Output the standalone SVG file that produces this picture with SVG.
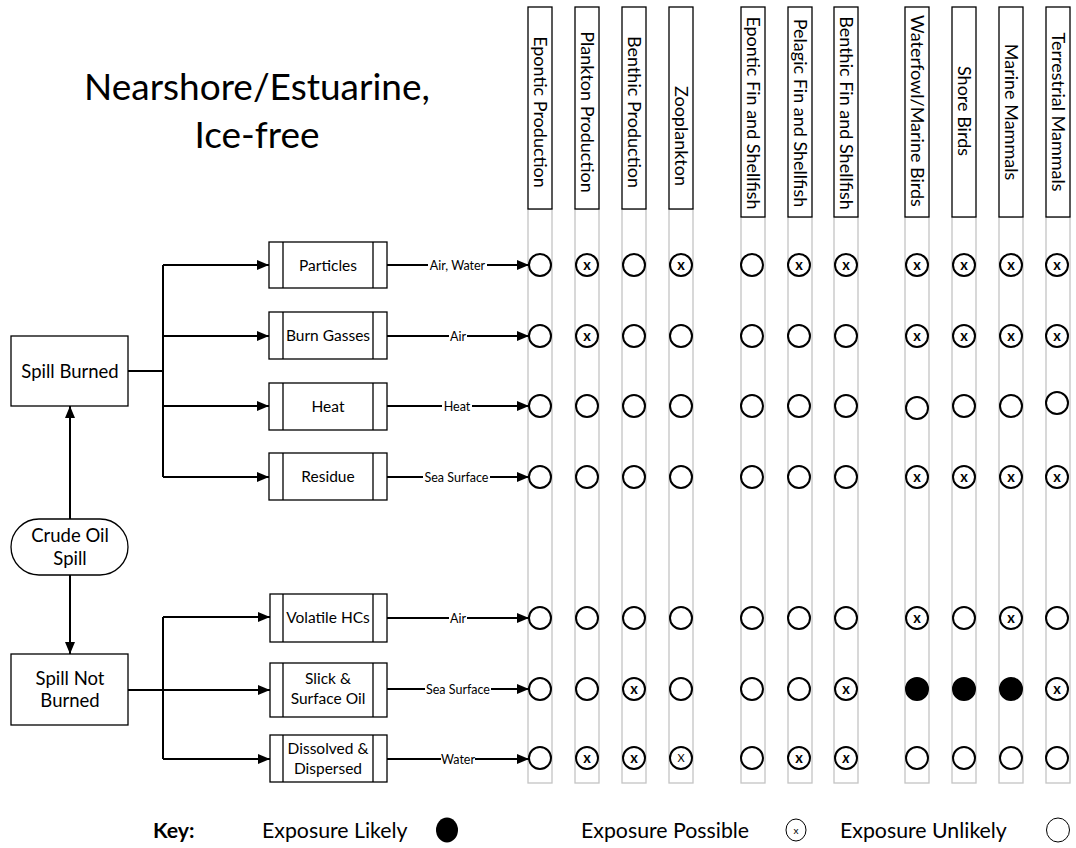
<svg xmlns="http://www.w3.org/2000/svg" width="1076" height="848" viewBox="0 0 1076 848">
<defs>
<marker id="arr" viewBox="0 0 12 10" refX="12" refY="5" markerWidth="12" markerHeight="10" markerUnits="userSpaceOnUse" orient="auto"><path d="M0,0 L12,5 L0,10 z" fill="#000"/></marker>
</defs>
<style>
text{font-family:Lato,"Liberation Sans",sans-serif;fill:#000}
.box{fill:#fff;stroke:#000;stroke-width:1.3}
.lane{fill:none;stroke:#c4c4c4;stroke-width:1.3}
.hdr{font-size:18px;text-anchor:middle}
.node{font-size:18.5px;text-anchor:middle}
.proc{font-size:15.5px;text-anchor:middle}
.lbl{font-size:12.5px;text-anchor:middle}
.lblbg{fill:#fff;stroke:none}
.conn{fill:none;stroke:#000;stroke-width:2}
.c{fill:#fff;stroke:#000;stroke-width:2}
.cf{fill:#000;stroke:#000;stroke-width:2}
.x{font-size:14.5px;font-weight:bold;text-anchor:middle}
.key{font-size:21.3px}
.title{font-size:37px;text-anchor:middle}
</style>
<rect x="0" y="0" width="1076" height="848" fill="#fff"/>

<g id="title">
<text class="title" x="257" y="100">Nearshore/Estuarine,</text>
<text class="title" x="257" y="148">Ice-free</text>
</g>

<g id="col-epontic-production"><rect class="lane" x="528" y="209" width="24" height="574"/><rect class="box" x="528" y="7" width="24" height="202"/><text class="hdr" transform="translate(540,112) rotate(90)" dy="6.2">Epontic Production</text></g>
<g id="col-plankton-production"><rect class="lane" x="575" y="209" width="24" height="574"/><rect class="box" x="575" y="7" width="24" height="202"/><text class="hdr" transform="translate(587,112) rotate(90)" dy="6.2">Plankton Production</text></g>
<g id="col-benthic-production"><rect class="lane" x="622" y="209" width="24" height="574"/><rect class="box" x="622" y="7" width="24" height="202"/><text class="hdr" transform="translate(634,112) rotate(90)" dy="6.2">Benthic Production</text></g>
<g id="col-zooplankton"><rect class="lane" x="669" y="209" width="24" height="574"/><rect class="box" x="669" y="7" width="24" height="202"/><text class="hdr" transform="translate(681,136) rotate(90)" dy="6.2">Zooplankton</text></g>
<g id="col-epontic-fin"><rect class="lane" x="741" y="217" width="24" height="566"/><rect class="box" x="741" y="7" width="24" height="210"/><text class="hdr" transform="translate(753,113) rotate(90)" dy="6.2">Epontic Fin and Shellfish</text></g>
<g id="col-pelagic-fin"><rect class="lane" x="788" y="217" width="24" height="566"/><rect class="box" x="788" y="7" width="24" height="210"/><text class="hdr" transform="translate(800,113) rotate(90)" dy="6.2">Pelagic Fin and Shellfish</text></g>
<g id="col-benthic-fin"><rect class="lane" x="834" y="217" width="24" height="566"/><rect class="box" x="834" y="7" width="24" height="210"/><text class="hdr" transform="translate(846,113) rotate(90)" dy="6.2">Benthic Fin and Shellfish</text></g>
<g id="col-waterfowl"><rect class="lane" x="905" y="217" width="24" height="566"/><rect class="box" x="905" y="7" width="24" height="210"/><text class="hdr" transform="translate(917,111) rotate(90)" dy="6.2">Waterfowl/Marine Birds</text></g>
<g id="col-shore-birds"><rect class="lane" x="952" y="217" width="24" height="566"/><rect class="box" x="952" y="7" width="24" height="210"/><text class="hdr" transform="translate(964,111) rotate(90)" dy="6.2">Shore Birds</text></g>
<g id="col-marine-mammals"><rect class="lane" x="999" y="217" width="24" height="566"/><rect class="box" x="999" y="7" width="24" height="210"/><text class="hdr" transform="translate(1011,112) rotate(90)" dy="6.2">Marine Mammals</text></g>
<g id="col-terrestrial-mammals"><rect class="lane" x="1046" y="217" width="24" height="566"/><rect class="box" x="1046" y="7" width="24" height="210"/><text class="hdr" transform="translate(1058,112) rotate(90)" dy="6.2">Terrestrial Mammals</text></g>

<g id="connectors">
<path class="conn" d="M70,519 V406" marker-end="url(#arr)"/>
<path class="conn" d="M70,575 V654" marker-end="url(#arr)"/>
<path class="conn" d="M128,371 H163 M163,265 V477" stroke-width="2.5"/>
<path class="conn" d="M163,265 H269" marker-end="url(#arr)"/>
<path class="conn" d="M163,336 H269" marker-end="url(#arr)"/>
<path class="conn" d="M163,406 H269" marker-end="url(#arr)"/>
<path class="conn" d="M163,477 H269" marker-end="url(#arr)"/>
<path class="conn" d="M128,690 H163 M163,617 V759" stroke-width="2.5"/>
<path class="conn" d="M163,617 H270" marker-end="url(#arr)"/>
<path class="conn" d="M163,690 H270" marker-end="url(#arr)"/>
<path class="conn" d="M163,759 H270" marker-end="url(#arr)"/>
<path class="conn" d="M387,265 H529" marker-end="url(#arr)"/>
<path class="conn" d="M387,336 H529" marker-end="url(#arr)"/>
<path class="conn" d="M387,406 H529" marker-end="url(#arr)"/>
<path class="conn" d="M387,477 H529" marker-end="url(#arr)"/>
<path class="conn" d="M387,618 H529" marker-end="url(#arr)"/>
<path class="conn" d="M387,689 H529" marker-end="url(#arr)"/>
<path class="conn" d="M387,759 H529" marker-end="url(#arr)"/>
<rect class="lblbg" x="428" y="258" width="59" height="14"/><text class="lbl" x="457.5" y="269.5">Air, Water</text>
<rect class="lblbg" x="449" y="329" width="18" height="14"/><text class="lbl" x="458" y="340.5">Air</text>
<rect class="lblbg" x="442" y="399" width="30" height="14"/><text class="lbl" x="457" y="410.5">Heat</text>
<rect class="lblbg" x="423" y="470" width="67" height="14"/><text class="lbl" x="456.5" y="481.5">Sea Surface</text>
<rect class="lblbg" x="449" y="611" width="18" height="14"/><text class="lbl" x="458" y="622.5">Air</text>
<rect class="lblbg" x="425" y="682" width="66" height="14"/><text class="lbl" x="458" y="693.5">Sea Surface</text>
<rect class="lblbg" x="441" y="752" width="34" height="14"/><text class="lbl" x="458" y="763.5">Water</text>
</g>

<g id="spill-burned"><rect class="box" x="11" y="336" width="117" height="70"/><text class="node" x="70" y="377.5">Spill Burned</text></g>
<g id="crude-oil-spill"><rect class="box" x="11" y="519" width="117" height="56" rx="28" ry="28"/><text class="node" x="70" y="542">Crude Oil</text><text class="node" x="70" y="565">Spill</text></g>
<g id="spill-not-burned"><rect class="box" x="11" y="654" width="117" height="71"/><text class="node" x="70" y="685">Spill Not</text><text class="node" x="70" y="707">Burned</text></g>

<g id="particles"><rect class="box" x="269" y="242" width="118" height="46"/><path class="box" d="M283,242 V288 M373,242 V288"/><text class="proc" x="328" y="270.5">Particles</text></g>
<g id="burn-gasses"><rect class="box" x="269" y="312" width="118" height="47"/><path class="box" d="M283,312 V359 M373,312 V359"/><text class="proc" x="328" y="341">Burn Gasses</text></g>
<g id="heat"><rect class="box" x="269" y="383" width="118" height="47"/><path class="box" d="M283,383 V430 M373,383 V430"/><text class="proc" x="328" y="412">Heat</text></g>
<g id="residue"><rect class="box" x="269" y="453" width="118" height="47"/><path class="box" d="M283,453 V500 M373,453 V500"/><text class="proc" x="328" y="482">Residue</text></g>
<g id="volatile-hcs"><rect class="box" x="270" y="594" width="117" height="48"/><path class="box" d="M283,594 V642 M373,594 V642"/><text class="proc" x="328" y="623">Volatile HCs</text></g>
<g id="slick-surface-oil"><rect class="box" x="270" y="663" width="117" height="54"/><path class="box" d="M283,663 V717 M373,663 V717"/><text class="proc" x="328" y="684">Slick &amp;</text><text class="proc" x="328" y="704">Surface Oil</text></g>
<g id="dissolved-dispersed"><rect class="box" x="270" y="735" width="117" height="47"/><path class="box" d="M283,735 V782 M373,735 V782"/><text class="proc" x="328" y="754">Dissolved &amp;</text><text class="proc" x="328" y="774">Dispersed</text></g>

<g id="exposure-particles">
<circle class="c" cx="540" cy="265" r="11"/>
<circle class="c" cx="587" cy="265" r="11"/><text class="x" x="587" y="269.5">x</text>
<circle class="c" cx="634" cy="265" r="11"/>
<circle class="c" cx="681" cy="265" r="11"/><text class="x" x="681" y="269.5">x</text>
<circle class="c" cx="752" cy="265" r="11"/>
<circle class="c" cx="799" cy="265" r="11"/><text class="x" x="799" y="269.5">x</text>
<circle class="c" cx="846" cy="265" r="11"/><text class="x" x="846" y="269.5">x</text>
<circle class="c" cx="917" cy="265" r="11"/><text class="x" x="917" y="269.5">x</text>
<circle class="c" cx="964" cy="265" r="11"/><text class="x" x="964" y="269.5">x</text>
<circle class="c" cx="1011" cy="265" r="11"/><text class="x" x="1011" y="269.5">x</text>
<circle class="c" cx="1057" cy="265" r="11"/><text class="x" x="1057" y="269.5">x</text>
</g>
<g id="exposure-burn-gasses">
<circle class="c" cx="540" cy="336" r="11"/>
<circle class="c" cx="587" cy="336" r="11"/><text class="x" x="587" y="340.5">x</text>
<circle class="c" cx="634" cy="336" r="11"/>
<circle class="c" cx="681" cy="336" r="11"/>
<circle class="c" cx="752" cy="336" r="11"/>
<circle class="c" cx="799" cy="336" r="11"/>
<circle class="c" cx="846" cy="336" r="11"/>
<circle class="c" cx="917" cy="336" r="11"/><text class="x" x="917" y="340.5">x</text>
<circle class="c" cx="964" cy="336" r="11"/><text class="x" x="964" y="340.5">x</text>
<circle class="c" cx="1011" cy="336" r="11"/><text class="x" x="1011" y="340.5">x</text>
<circle class="c" cx="1057" cy="336" r="11"/><text class="x" x="1057" y="340.5">x</text>
</g>
<g id="exposure-heat">
<circle class="c" cx="540" cy="406" r="11"/>
<circle class="c" cx="587" cy="406" r="11"/>
<circle class="c" cx="634" cy="406" r="11"/>
<circle class="c" cx="681" cy="406" r="11"/>
<circle class="c" cx="752" cy="406" r="11"/>
<circle class="c" cx="799" cy="406" r="11"/>
<circle class="c" cx="846" cy="406" r="11"/>
<circle class="c" cx="917" cy="408" r="11"/>
<circle class="c" cx="964" cy="406" r="11"/>
<circle class="c" cx="1011" cy="406" r="11"/>
<circle class="c" cx="1057" cy="403" r="11"/>
</g>
<g id="exposure-residue">
<circle class="c" cx="540" cy="477" r="11"/>
<circle class="c" cx="587" cy="477" r="11"/>
<circle class="c" cx="634" cy="477" r="11"/>
<circle class="c" cx="681" cy="477" r="11"/>
<circle class="c" cx="752" cy="477" r="11"/>
<circle class="c" cx="799" cy="477" r="11"/>
<circle class="c" cx="846" cy="477" r="11"/>
<circle class="c" cx="917" cy="477" r="11"/><text class="x" x="917" y="481.5">x</text>
<circle class="c" cx="964" cy="477" r="11"/><text class="x" x="964" y="481.5">x</text>
<circle class="c" cx="1011" cy="477" r="11"/><text class="x" x="1011" y="481.5">x</text>
<circle class="c" cx="1057" cy="477" r="11"/><text class="x" x="1057" y="481.5">x</text>
</g>
<g id="exposure-volatile-hcs">
<circle class="c" cx="540" cy="618" r="11"/>
<circle class="c" cx="587" cy="618" r="11"/>
<circle class="c" cx="634" cy="618" r="11"/>
<circle class="c" cx="681" cy="618" r="11"/>
<circle class="c" cx="752" cy="618" r="11"/>
<circle class="c" cx="799" cy="618" r="11"/>
<circle class="c" cx="846" cy="618" r="11"/>
<circle class="c" cx="917" cy="618" r="11"/><text class="x" x="917" y="622.5">x</text>
<circle class="c" cx="964" cy="618" r="11"/>
<circle class="c" cx="1011" cy="618" r="11"/><text class="x" x="1011" y="622.5">x</text>
<circle class="c" cx="1057" cy="618" r="11"/>
</g>
<g id="exposure-slick">
<circle class="c" cx="540" cy="689" r="11"/>
<circle class="c" cx="587" cy="689" r="11"/>
<circle class="c" cx="634" cy="689" r="11"/><text class="x" x="634" y="693.5">x</text>
<circle class="c" cx="681" cy="689" r="11"/>
<circle class="c" cx="752" cy="689" r="11"/>
<circle class="c" cx="799" cy="689" r="11"/>
<circle class="c" cx="846" cy="689" r="11"/><text class="x" x="846" y="693.5">x</text>
<circle class="cf" cx="917" cy="689" r="11"/>
<circle class="cf" cx="964" cy="689" r="11"/>
<circle class="cf" cx="1011" cy="689" r="11"/>
<circle class="c" cx="1057" cy="689" r="11"/><text class="x" x="1057" y="693.5">x</text>
</g>
<g id="exposure-dissolved">
<circle class="c" cx="540" cy="758" r="11"/>
<circle class="c" cx="587" cy="758" r="11"/><text class="x" x="587" y="762.5">x</text>
<circle class="c" cx="634" cy="758" r="11"/><text class="x" x="634" y="762.5">x</text>
<circle class="c" cx="681" cy="758" r="11"/><text x="681" y="762" font-size="11px" text-anchor="middle">X</text>
<circle class="c" cx="752" cy="758" r="11"/>
<circle class="c" cx="799" cy="758" r="11"/><text class="x" x="799" y="762.5">x</text>
<circle class="c" cx="846" cy="758" r="11"/><text class="x" x="846" y="762.5" font-style="italic">x</text>
<circle class="c" cx="917" cy="758" r="11"/>
<circle class="c" cx="964" cy="758" r="11"/>
<circle class="c" cx="1011" cy="758" r="11"/>
<circle class="c" cx="1057" cy="758" r="11"/>
</g>

<g id="key">
<text class="key" x="153" y="838" font-weight="bold" font-size="20.5px">Key:</text>
<text class="key" x="262" y="838">Exposure Likely</text>
<ellipse cx="447" cy="830" rx="11" ry="12.5" fill="#000"/>
<text class="key" x="581" y="838">Exposure Possible</text>
<ellipse cx="796" cy="830" rx="10" ry="11" fill="#fff" stroke="#000" stroke-width="1"/><text x="796" y="833.5" font-size="10px" text-anchor="middle">x</text>
<text class="key" x="840" y="838">Exposure Unlikely</text>
<ellipse cx="1058" cy="830" rx="11.5" ry="12" fill="#fff" stroke="#000" stroke-width="1"/>
</g>
</svg>
